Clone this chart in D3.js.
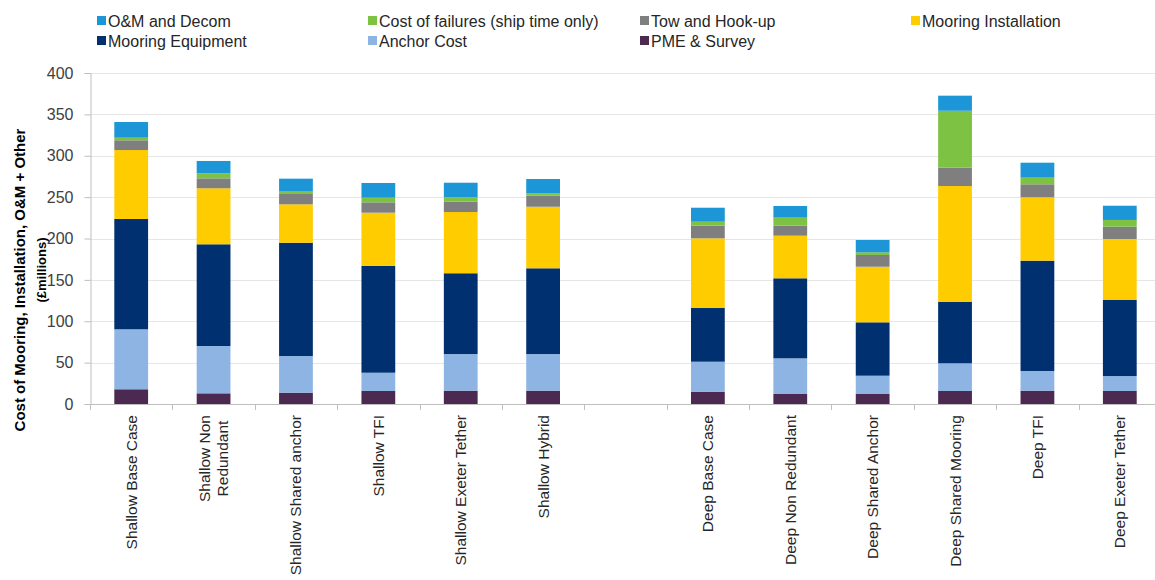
<!DOCTYPE html>
<html>
<head>
<meta charset="utf-8">
<script src="https://cdn.jsdelivr.net/npm/d3@7/dist/d3.min.js"></script>
<style>
  html, body { margin: 0; padding: 0; background: #fff; }
  svg { display: block; font-family: "Liberation Sans", Arial, sans-serif; }
</style>
</head>
<body>
<svg id="chart" width="1155" height="580"></svg>
<script>
// Mooring scenarios (shallow and deep sites)
const shallowCases = ["Shallow Base Case", "Shallow Non\nRedundant", "Shallow Shared anchor",
  "Shallow TFI", "Shallow Exeter Tether", "Shallow Hybrid"];
const deepCases = ["Deep Base Case", "Deep Non Redundant", "Deep Shared Anchor",
  "Deep Shared Mooring", "Deep TFI", "Deep Exeter Tether"];
const categories = shallowCases.concat(deepCases);

// Cost components, £ millions, in stacking order from the bottom up
const pmeSurvey      = [17.8, 12.9, 13.7, 15.7, 16.1, 16.1, 14.9, 12.1, 12.1, 15.7, 16.1, 15.7];
const anchorCost     = [72.5, 57.2, 44.3, 22.1, 44.3, 44.3, 36.2, 43.1, 22.1, 33.5, 23.8, 18.1];
const mooringEquip   = [133.3, 122.9, 136.9, 129.0, 97.6, 103.6, 64.9, 96.7, 64.5, 74.4, 133.3, 91.9];
const mooringInstall = [83.3, 67.7, 46.4, 64.4, 74.0, 74.4, 84.2, 51.5, 67.2, 139.8, 76.6, 73.7];
const towHookup      = [11.8, 12.0, 12.5, 12.5, 12.5, 13.3, 15.3, 12.1, 14.2, 22.2, 15.7, 14.9];
const failures       = [3.1, 6.1, 3.6, 5.6, 5.3, 2.9, 4.8, 9.7, 3.2, 68.8, 8.0, 8.1];
const omDecom        = [19.0, 14.9, 14.9, 17.8, 17.6, 17.3, 16.9, 14.1, 14.9, 18.2, 18.1, 17.2];

const seriesNames = ["PME & Survey", "Anchor Cost", "Mooring Equipment", "Mooring Installation",
  "Tow and Hook-up", "Cost of failures (ship time only)", "O&M and Decom"];
const seriesValues = [pmeSurvey, anchorCost, mooringEquip, mooringInstall, towHookup, failures, omDecom];
const seriesColors = ["#4b2950", "#8db4e2", "#00306f", "#ffcc00", "#7f7f7f", "#7dc243", "#1c96d6"];

const yTicks = [0, 50, 100, 150, 200, 250, 300, 350, 400];

// Legend layout: two rows, columns as listed
const legendItems = [
  { name: "O&M and Decom", row: 0, col: 0 },
  { name: "Cost of failures (ship time only)", row: 0, col: 1 },
  { name: "Tow and Hook-up", row: 0, col: 2 },
  { name: "Mooring Installation", row: 0, col: 3 },
  { name: "Mooring Equipment", row: 1, col: 0 },
  { name: "Anchor Cost", row: 1, col: 1 },
  { name: "PME & Survey", row: 1, col: 2 }
];

const svg = d3.select("#chart");
const plot = { left: 90, right: 1161, top: 73, bottom: 404 };

// One empty slot separates the shallow and deep groups
const GAP = "__gap__";
const domain = shallowCases.concat([GAP], deepCases);
const x = d3.scaleBand().domain(domain).range([plot.left, plot.right])
  .paddingInner(0.59).paddingOuter(0.295);
const y = d3.scaleLinear().domain([0, 400]).range([plot.bottom, plot.top]);

const rows = categories.map((c, i) => {
  const r = { cat: c };
  seriesNames.forEach((s, k) => { r[s] = seriesValues[k][i]; });
  return r;
});
const stacked = d3.stack().keys(seriesNames)(rows);
const color = d3.scaleOrdinal().domain(seriesNames).range(seriesColors);

// Gridlines
svg.append("g").selectAll("line").data(yTicks.slice(1)).join("line")
  .attr("x1", plot.left).attr("x2", 1155)
  .attr("y1", d => Math.round(y(d)) + 0.5).attr("y2", d => Math.round(y(d)) + 0.5)
  .attr("stroke", "#e6e6e6").attr("stroke-width", 1);

// Bars
svg.append("g").selectAll("g").data(stacked).join("g")
  .attr("fill", d => color(d.key))
  .selectAll("rect").data(d => d).join("rect")
  .attr("x", d => x(d.data.cat))
  .attr("width", x.bandwidth())
  .attr("y", d => y(d[1]))
  .attr("height", d => y(d[0]) - y(d[1]));

// Y axis
const yAxis = d3.axisLeft(y).tickValues(yTicks).tickSize(6).tickPadding(11);
const gy = svg.append("g").attr("transform", `translate(${plot.left + 0.5},0)`).call(yAxis);
gy.select(".domain").attr("stroke", "#bfbfbf");
gy.selectAll(".tick line").attr("stroke", "#bfbfbf");
gy.selectAll(".tick text").attr("font-size", 16).attr("fill", "#404040")
  .attr("font-family", "'Liberation Sans', Arial, sans-serif");

// X axis line with ticks at slot boundaries
const step = x.step();
const bounds = d3.range(domain.length + 1).map(i => plot.left + i * step);
const gx = svg.append("g");
gx.append("line").attr("x1", plot.left).attr("x2", 1155)
  .attr("y1", plot.bottom + 0.5).attr("y2", plot.bottom + 0.5).attr("stroke", "#bfbfbf");
gx.selectAll("line.tk").data(bounds).join("line").attr("class", "tk")
  .attr("x1", d => Math.round(d) + 0.5).attr("x2", d => Math.round(d) + 0.5)
  .attr("y1", plot.bottom).attr("y2", plot.bottom + 6).attr("stroke", "#bfbfbf");

// Category labels, rotated, reading bottom to top
const labelTop = plot.bottom + 11;
const lineGap = 18;
categories.forEach(cat => {
  const lines = cat.split("\n");
  const cx = x(cat) + x.bandwidth() / 2;
  const g = svg.append("g");
  const texts = lines.map(ln => g.append("text")
    .text(ln).attr("font-size", 15.5).attr("fill", "#262626"));
  const widths = texts.map(t => t.node().getComputedTextLength());
  const maxW = d3.max(widths);
  const n = lines.length;
  texts.forEach((t, i) => {
    const off = (i - (n - 1) / 2) * lineGap;
    const px = cx + off + 5.5;
    const py = labelTop + maxW / 2;
    t.attr("text-anchor", "middle")
      .attr("transform", `translate(${px},${py}) rotate(-90)`);
  });
});

// Y axis title, two lines
svg.append("text").attr("font-weight", "bold").attr("font-size", 15)
  .attr("fill", "#000").attr("text-anchor", "middle")
  .attr("transform", "translate(25,280) rotate(-90)")
  .text("Cost of Mooring, Installation, O&M + Other");
svg.append("text").attr("font-weight", "bold").attr("font-size", 13)
  .attr("fill", "#000").attr("text-anchor", "middle")
  .attr("transform", "translate(46,270) rotate(-90)")
  .text("(£millions)");

// Legend
const colX = [97, 368, 640, 911];
const rowY = [21, 41];
const lg = svg.append("g");
legendItems.forEach(it => {
  const gx0 = colX[it.col], gy0 = rowY[it.row];
  lg.append("rect").attr("x", gx0).attr("y", gy0 - 5).attr("width", 9).attr("height", 9)
    .attr("fill", color(it.name));
  lg.append("text").attr("x", gx0 + 11).attr("y", gy0).attr("dy", "0.35em")
    .attr("font-size", 16).attr("fill", "#262626").text(it.name);
});
</script>
</body>
</html>
